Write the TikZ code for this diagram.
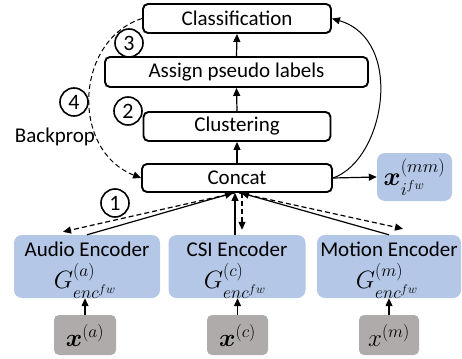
\documentclass[tikz,border=0pt]{standalone}
\usepackage{fix-cm}
\usepackage{amsmath,bm}
\usepackage{fontspec}
\setmainfont{Carlito}
\usetikzlibrary{arrows.meta,calc}
\definecolor{encblue}{RGB}{180,199,231}
\definecolor{ingray}{RGB}{175,171,171}
\begin{document}
\begin{tikzpicture}[x=1pt,y=-1pt,
  stage/.style={draw, line width=1.9pt, rounded corners=5pt, fill=white, inner sep=0pt, font=\fontsize{21}{24}\selectfont},
  enc/.style={fill=encblue, rounded corners=8pt, minimum height=63pt, inner sep=0pt},
  inp/.style={fill=ingray, rounded corners=5pt, minimum width=61pt, minimum height=40pt, inner sep=0pt, font=\fontsize{25}{28}\selectfont},
  lbl/.style={inner sep=0pt, font=\fontsize{21}{24}\selectfont},
  mth/.style={inner sep=0pt, font=\fontsize{25}{28}\selectfont},
  num/.style={circle, draw, line width=1.6pt, fill=white, minimum size=28pt, inner sep=0pt, font=\fontsize{22}{24}\selectfont},
  arr/.style={-{Triangle[length=8pt,width=7pt]}, line width=1.2pt},
  dsh/.style={dash pattern=on 5pt off 3pt}]
\useasboundingbox (0,0) rectangle (462,358);
% stage boxes
\node[stage, minimum width=188pt, minimum height=29pt] (cls) at (237,18.5) {Classification};
\node[stage, minimum width=263pt, minimum height=30pt] (apl) at (236.5,72) {Assign pseudo labels};
\node[stage, minimum width=187pt, minimum height=29pt] (clu) at (237,126.5) {Clustering};
\node[stage, minimum width=190pt, minimum height=28pt] (cat) at (237,178) {Concat};
% encoders
\node[enc, minimum width=146pt] (audio) at (87,266.5) {};
\node[enc, minimum width=137pt] (csi) at (237,266.5) {};
\node[enc, minimum width=144pt] (motion) at (389,266.5) {};
\node[lbl] (audiot) at ($(audio.north)+(0,14)$) {Audio Encoder};
\node[lbl] (csit) at ($(csi.north)+(0,14)$) {CSI Encoder};
\node[lbl] (motiont) at ($(motion.north)+(0,14)$) {Motion Encoder};
\node[mth] (audiog) at ($(audio.center)+(-2,14)$) {$G^{(a)}_{enc^{fw}}$};
\node[mth] (csig) at ($(csi.center)+(-2,14)$) {$G^{(c)}_{enc^{fw}}$};
\node[mth] (motiong) at ($(motion.center)+(-2,14)$) {$G^{(m)}_{enc^{fw}}$};
% inputs
\node[inp, minimum width=62pt] (xa) at (85,335) {$\bm{x}^{(a)}$};
\node[inp] (xc) at (237.5,335) {$\bm{x}^{(c)}$};
\node[inp, minimum width=60pt] (xm) at (389,335) {$x^{(m)}$};
% multimodal feature
\node[fill=encblue, rounded corners=8pt, minimum width=75pt, minimum height=48pt, inner sep=0pt, font=\fontsize{26}{28}\selectfont] (mm) at (414.5,177) {$\bm{x}^{(mm)}_{i^{fw}}$};
% vertical flow
\draw[arr] (cat.north) -- (clu.south);
\draw[arr] (clu.north) -- (apl.south);
\draw[arr] (apl.north) -- (cls.south);
% inputs to encoders
\draw[arr] (xa.north) -- (xa.north |- audio.south);
\draw[arr] (xc.north) -- (xc.north |- csi.south);
\draw[arr] (xm.north) -- (xm.north |- motion.south);
% encoders to concat and back
\draw[arr] (audio.north) -- ($(cat.south)+(-4,0)$);
\draw[arr, dsh] ($(cat.south)+(-2,0)$) -- ($(audio.north)+(-24,-3)$);
\draw[arr] ($(csi.north)+(-2,0)$) -- ($(cat.south)+(-2,0)$);
\draw[arr, dsh] ($(cat.south)+(5,0)$) -- ($(csi.north)+(5,-5)$);
\draw[arr] (motion.north) -- ($(cat.south)+(4,0)$);
\draw[arr, dsh] ($(cat.south)+(2,0)$) -- ($(motion.north)+(14,-6)$);
% concat to mm
\draw[arr] (cat.east) -- (mm.west);
% skip curve
\draw[arr, line width=1pt] (cat.east) .. controls (385,160) and (405,40) .. (cls.east);
% backprop
\draw[arr, dsh, line width=1pt] (cls.west) .. controls (75,40) and (70,150) .. (cat.west);
% numbered circles
\node[num] (n3) at (129,43) {3};
\node[num] (n4) at (74,102) {4};
\node[num] (n2) at (128,111) {2};
\node[num] (n1) at (115,203) {1};
\node[lbl] (bp) at (55,137) {Backprop};
\end{tikzpicture}
\end{document}
